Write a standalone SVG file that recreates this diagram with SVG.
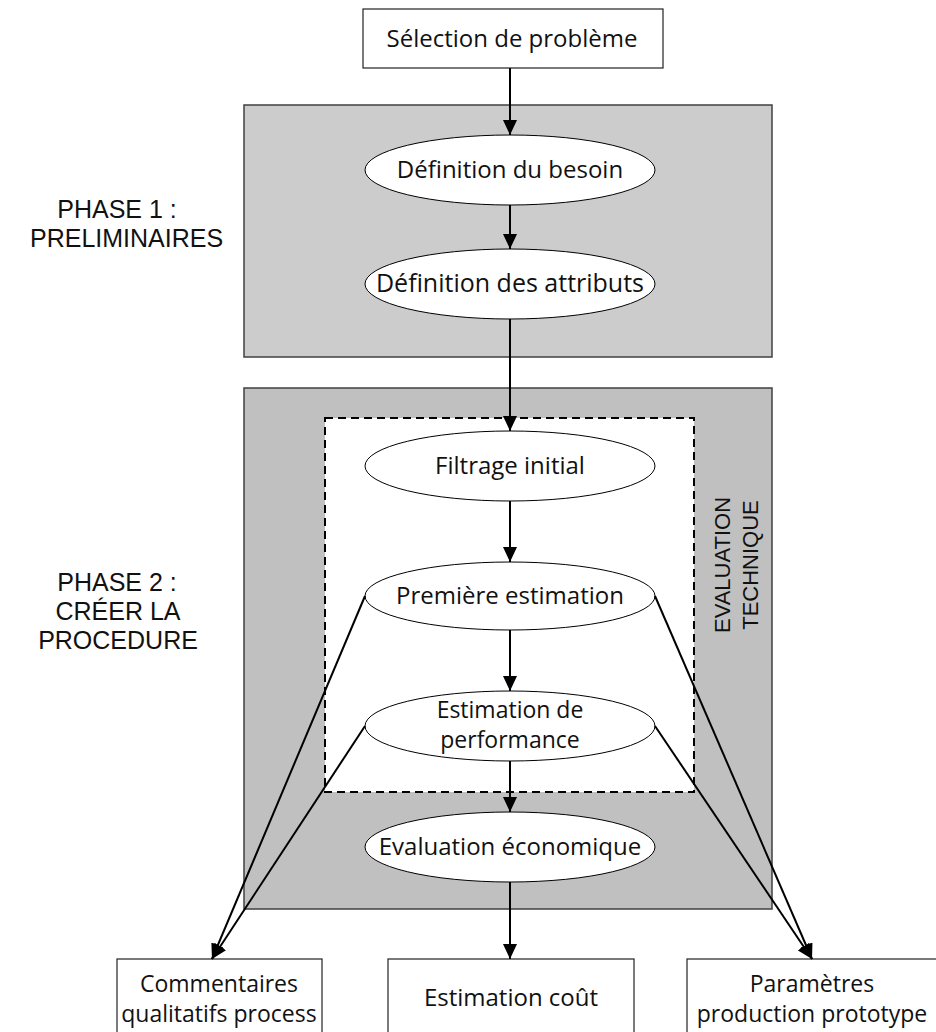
<svg xmlns="http://www.w3.org/2000/svg" width="936" height="1032" viewBox="0 0 936 1032">
<style>
.node{font-family:"Open Sans","Liberation Sans",sans-serif;font-size:24px;fill:#111;text-anchor:middle}
.sm{font-size:23px}
.lbl{font-family:"Liberation Sans",Arial,sans-serif;font-size:25px;fill:#111;text-anchor:middle}
.ev{font-family:"Liberation Sans",Arial,sans-serif;font-size:22px;fill:#111;text-anchor:middle}
.box{fill:#fff;stroke:#222;stroke-width:1.2}
.ell{fill:#fff;stroke:#000;stroke-width:1}
.con{stroke:#000;stroke-width:2;fill:none}
</style>
<defs>
<marker id="ah" markerUnits="userSpaceOnUse" markerWidth="16" markerHeight="14" refX="15" refY="7" orient="auto">
<path d="M0,0 L15,7 L0,14 z" fill="#000"/>
</marker>
</defs>
<rect width="936" height="1032" fill="#fff"/>
<g id="phase1">
<rect x="244" y="105" width="528" height="252" fill="#cccccc" stroke="#404040" stroke-width="1.5"/>
<text class="lbl" x="117" y="218">PHASE 1 :</text>
<text class="lbl" x="30" y="247" style="text-anchor:start">PRELIMINAIRES</text>
</g>
<g id="phase2">
<rect x="244" y="388" width="528" height="521" fill="#c0c0c0" stroke="#404040" stroke-width="1.5"/>
<text class="lbl" x="117" y="591">PHASE 2 :</text>
<text class="lbl" x="118" y="620">CRÉER LA</text>
<text class="lbl" x="118" y="649">PROCEDURE</text>
</g>
<g id="eval-tech">
<rect x="325" y="418" width="369" height="374" fill="#fff" stroke="#000" stroke-width="2" stroke-dasharray="8,5"/>
<text class="ev" transform="translate(730,565) rotate(-90)">EVALUATION</text>
<text class="ev" transform="translate(758,565) rotate(-90)">TECHNIQUE</text>
</g>
<g id="selection">
<rect class="box" x="363" y="9" width="300" height="59"/>
<text class="node" x="512" y="47">Sélection de problème</text>
</g>
<g id="besoin">
<ellipse class="ell" cx="510" cy="170" rx="145" ry="35"/>
<text class="node" x="510" y="178">Définition du besoin</text>
</g>
<g id="attributs">
<ellipse class="ell" cx="510" cy="284" rx="145" ry="35"/>
<text class="node" x="510" y="292" style="font-size:25px">Définition des attributs</text>
</g>
<g id="filtrage">
<ellipse class="ell" cx="510" cy="466" rx="145" ry="35"/>
<text class="node" x="510" y="474">Filtrage initial</text>
</g>
<g id="premiere">
<ellipse class="ell" cx="510" cy="596" rx="145" ry="34"/>
<text class="node" x="510" y="604">Première estimation</text>
</g>
<g id="performance">
<ellipse class="ell" cx="510" cy="726" rx="145" ry="35"/>
<text class="node sm" x="510" y="718">Estimation de</text>
<text class="node sm" x="510" y="748">performance</text>
</g>
<g id="economique">
<ellipse class="ell" cx="510" cy="847" rx="145" ry="35"/>
<text class="node" x="510" y="855">Evaluation économique</text>
</g>
<g id="commentaires">
<rect class="box" x="117" y="959" width="205" height="90"/>
<text class="node sm" x="219" y="992">Commentaires</text>
<text class="node sm" x="219" y="1022">qualitatifs process</text>
</g>
<g id="cout">
<rect class="box" x="388" y="959" width="246" height="90"/>
<text class="node" x="511" y="1006">Estimation coût</text>
</g>
<g id="parametres">
<rect class="box" x="687" y="959" width="260" height="90"/>
<text class="node sm" x="812" y="992">Paramètres</text>
<text class="node sm" x="812" y="1022">production prototype</text>
</g>
<g id="connectors">
<line class="con" x1="510" y1="68" x2="510" y2="135" marker-end="url(#ah)"/>
<line class="con" x1="510" y1="205" x2="510" y2="249" marker-end="url(#ah)"/>
<line class="con" x1="510" y1="319" x2="510" y2="431" marker-end="url(#ah)"/>
<line class="con" x1="510" y1="501" x2="510" y2="562" marker-end="url(#ah)"/>
<line class="con" x1="510" y1="630" x2="510" y2="691" marker-end="url(#ah)"/>
<line class="con" x1="510" y1="761" x2="510" y2="812" marker-end="url(#ah)"/>
<line class="con" x1="510" y1="882" x2="510" y2="959" marker-end="url(#ah)"/>
<line class="con" x1="365" y1="596" x2="212" y2="959" marker-end="url(#ah)"/>
<line class="con" x1="365" y1="726" x2="212" y2="959" marker-end="url(#ah)"/>
<line class="con" x1="655" y1="596" x2="812" y2="959" marker-end="url(#ah)"/>
<line class="con" x1="655" y1="726" x2="812" y2="959" marker-end="url(#ah)"/>
</g>
</svg>
